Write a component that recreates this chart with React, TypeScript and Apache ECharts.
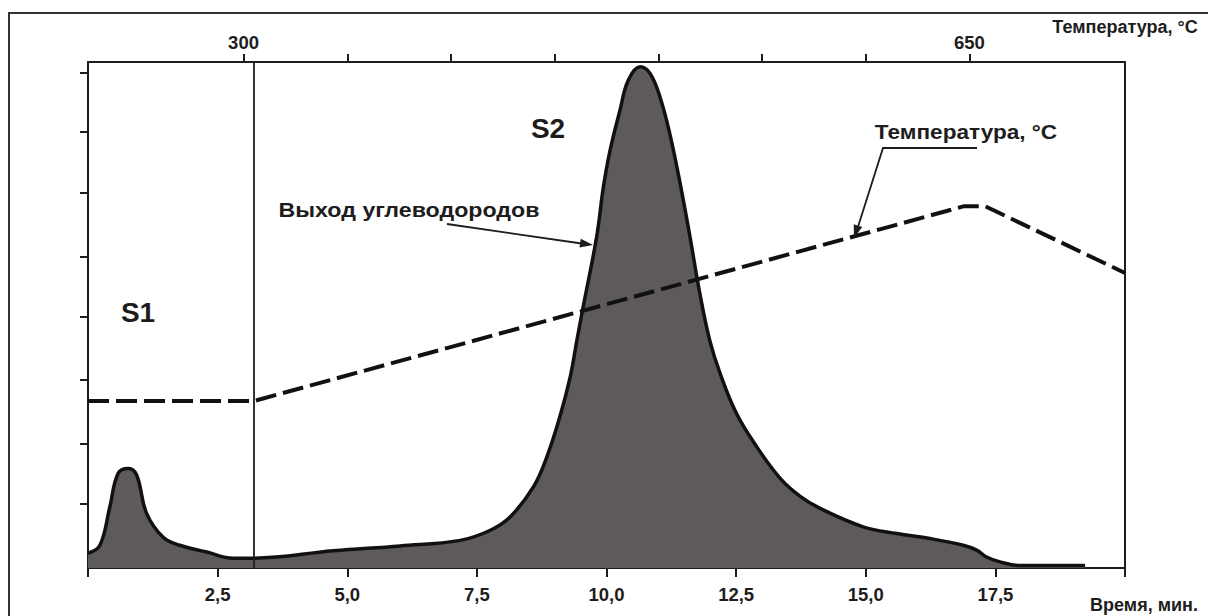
import React, { useEffect, useRef } from "react";
import * as echarts from "echarts";

// Signal (hydrocarbon yield) trace: time, min
const signalTime = [
  0, 0.23, 0.42, 0.58, 0.78, 0.94, 1.13, 1.45, 1.77, 2.29, 2.8, 3.19, 4.73, 6.02, 7.18, 7.75, 8.14,
  8.59, 8.85, 9.1, 9.3, 9.43, 9.55, 9.81, 9.94, 10.07, 10.26, 10.42, 10.65, 10.84, 11.03, 11.22,
  11.42, 11.61, 11.8, 11.99, 12.19, 12.51, 12.9, 13.35, 13.73, 14.12, 14.95, 15.6, 16.24,
  16.88, 17.14, 17.33, 17.59, 17.98, 19.23,
];
// Signal intensity (arbitrary units)
const signalValue = [
  0.24, 0.37, 0.99, 1.54, 1.62, 1.51, 0.89, 0.5, 0.37, 0.26, 0.16, 0.16, 0.28, 0.36, 0.45, 0.61,
  0.83, 1.32, 1.81, 2.46, 3.11, 3.71, 4.25, 5.39, 6.2, 6.8, 7.45, 7.94, 8.16, 8.05, 7.67, 7.07,
  6.26, 5.39, 4.47, 3.71, 3.17, 2.51, 1.97, 1.46, 1.17, 0.97, 0.67, 0.56, 0.48, 0.37, 0.29,
  0.18, 0.1, 0.04, 0.04,
];

// Temperature program
const tempTime = [0, 3.2, 16.9, 17.3, 20];
const tempValue = [300, 300, 650, 650, 530];

// S1/S2 boundary
const boundaryTime = 3.2;

// Axis ticks
const topTickValues = [300, 350, 400, 450, 500, 550, 600, 650];
const topLabelValues = [300, 650];
const leftTickValues = [1.05, 2.03, 3.06, 4.09, 5.07, 6.1, 7.1, 8.06];

const FONT = "'Liberation Sans', Arial, sans-serif";
const INK = "#1e1c1c";

export default function App() {
  const ref = useRef<HTMLDivElement>(null);

  useEffect(() => {
    if (!ref.current) return;
    const chart = echarts.init(ref.current, undefined, { renderer: "svg" });

    const signalData = signalTime.map((t, i) => [t, signalValue[i]]);
    const tempData = tempTime.map((t, i) => [t, tempValue[i]]);

    const axisLineStyle = { color: INK, width: 2 };

    const arrowHead = (tipX: number, tipY: number, fromX: number, fromY: number) => {
      const dx = tipX - fromX;
      const dy = tipY - fromY;
      const len = Math.sqrt(dx * dx + dy * dy);
      const ux = dx / len;
      const uy = dy / len;
      const bx = tipX - ux * 13;
      const by = tipY - uy * 13;
      const px = -uy * 4.5;
      const py = ux * 4.5;
      return {
        type: "polygon",
        shape: { points: [[tipX, tipY], [bx + px, by + py], [bx - px, by - py]] },
        style: { fill: INK },
        z: 100,
      };
    };

    const option: any = {
      animation: false,
      backgroundColor: "#ffffff",
      grid: { left: 88, right: 83, top: 62, bottom: 48 },
      xAxis: [
        {
          type: "value",
          position: "bottom",
          min: 0,
          max: 20,
          interval: 2.5,
          axisLine: { show: true, onZero: false, lineStyle: axisLineStyle },
          axisTick: { show: true, length: 9, lineStyle: { color: INK, width: 2 } },
          axisLabel: {
            margin: 17,
            fontFamily: FONT,
            fontWeight: "bold",
            fontSize: 18.5,
            color: INK,
            formatter: (v: number) => (v === 0 || v === 20 ? "" : v.toFixed(1).replace(".", ",")),
          },
          splitLine: { show: false },
        },
        {
          type: "value",
          position: "top",
          min: 225,
          max: 725,
          axisLine: { show: true, onZero: false, lineStyle: axisLineStyle },
          axisTick: {
            show: true,
            length: 8,
            customValues: topTickValues,
            lineStyle: { color: INK, width: 2 },
          },
          axisLabel: {
            show: true,
            customValues: topLabelValues,
            margin: 10,
            fontFamily: FONT,
            fontWeight: "bold",
            fontSize: 18.5,
            color: INK,
          },
          splitLine: { show: false },
        },
      ],
      yAxis: [
        {
          type: "value",
          position: "left",
          min: 0,
          max: 8.236,
          axisLine: { show: true, onZero: false, lineStyle: axisLineStyle },
          axisTick: {
            show: true,
            length: 8,
            customValues: leftTickValues,
            lineStyle: { color: INK, width: 2 },
          },
          axisLabel: { show: false },
          splitLine: { show: false },
        },
        {
          type: "value",
          position: "right",
          min: 0,
          max: 909,
          axisLine: { show: true, onZero: false, lineStyle: axisLineStyle },
          axisTick: { show: false },
          axisLabel: { show: false },
          splitLine: { show: false },
        },
      ],
      series: [
        {
          name: "Выход углеводородов",
          type: "line",
          xAxisIndex: 0,
          yAxisIndex: 0,
          data: signalData,
          smooth: 0.4,
          symbol: "none",
          lineStyle: { color: "#111", width: 3.5 },
          areaStyle: { color: "#5f5a5a", opacity: 1 },
          markLine: {
            silent: true,
            symbol: ["none", "none"],
            label: { show: false },
            lineStyle: { color: INK, width: 1.8, type: "solid" },
            data: [{ xAxis: boundaryTime }],
          },
          z: 2,
        },
        {
          name: "Температура, °C",
          type: "line",
          xAxisIndex: 0,
          yAxisIndex: 1,
          data: tempData,
          symbol: "none",
          lineStyle: { color: "#111", width: 4, type: [21, 7] },
          z: 5,
        },
      ],
      graphic: [
        {
          type: "rect",
          shape: { x: 9, y: 13, width: 1230, height: 640 },
          style: { fill: "none", stroke: "#333", lineWidth: 2 },
          silent: true,
        },
        {
          type: "text",
          x: 1125,
          y: 27,
          style: {
            text: "Температура, °C",
            font: `bold 18px ${FONT}`,
            fill: INK,
            align: "center",
            verticalAlign: "middle",
          },
        },
        {
          type: "text",
          x: 1144,
          y: 605,
          style: {
            text: "Время, мин.",
            font: `bold 18px ${FONT}`,
            fill: INK,
            align: "center",
            verticalAlign: "middle",
          },
        },
        {
          type: "text",
          x: 138,
          y: 312,
          style: {
            text: "S1",
            font: `bold 28px ${FONT}`,
            fill: INK,
            align: "center",
            verticalAlign: "middle",
          },
        },
        {
          type: "text",
          x: 548,
          y: 128,
          style: {
            text: "S2",
            font: `bold 28px ${FONT}`,
            fill: INK,
            align: "center",
            verticalAlign: "middle",
          },
        },
        {
          type: "text",
          x: 409,
          y: 210,
          scaleX: 1.16,
          style: {
            text: "Выход углеводородов",
            font: `bold 20px ${FONT}`,
            fill: INK,
            align: "center",
            verticalAlign: "middle",
          },
        },
        {
          type: "text",
          x: 966,
          y: 132,
          scaleX: 1.13,
          style: {
            text: "Температура, °C",
            font: `bold 20px ${FONT}`,
            fill: INK,
            align: "center",
            verticalAlign: "middle",
          },
        },
        {
          type: "polyline",
          shape: { points: [[447, 224], [585, 244]] },
          style: { stroke: INK, lineWidth: 1.8, fill: "none" },
          z: 100,
        },
        arrowHead(593, 245, 447, 224),
        {
          type: "polyline",
          shape: { points: [[977, 148], [883, 148], [857, 230]] },
          style: { stroke: INK, lineWidth: 1.8, fill: "none" },
          z: 100,
        },
        arrowHead(854, 238, 883, 148),
      ],
    };

    chart.setOption(option);
    return () => chart.dispose();
  }, []);

  return (
    <div
      ref={ref}
      style={{ position: "fixed", left: 0, top: 0, width: 1208, height: 616, background: "#fff" }}
    />
  );
}
